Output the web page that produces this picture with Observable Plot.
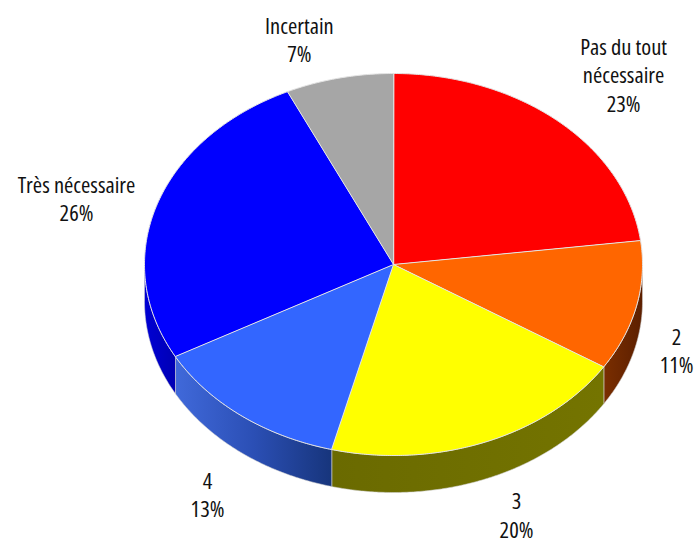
<!DOCTYPE html>
<html><head><meta charset="utf-8">
<script src="https://cdn.jsdelivr.net/npm/d3@7"></script>
<script src="https://cdn.jsdelivr.net/npm/@observablehq/plot@0.6"></script>
<style>html,body{margin:0;padding:0;background:#fff}</style>
</head><body><div id="chart"></div>
<script>
// ---- data ----
const categories = ["Pas du tout\nnécessaire", "2", "3", "4", "Très nécessaire", "Incertain"];
const values = [23, 11, 20, 13, 26, 7];
const topColors = ["#ff0000", "#ff6600", "#ffff00", "#3366ff", "#0000ff", "#a6a6a6"];
const sideColors = ["#7a0000", "url(#sideOrange)", "url(#sideYellow)", "url(#sideLightBlue)", "url(#sideBlue)", "#555555"];

// ---- layout ----
const W = 698, H = 544;
const cx = 393, rx = 249, cy = 264, ry = 191, depthPx = 37;
const depth = depthPx / ry;
const lift = 4 / ry;
// label anchors in pie units (x: -1..1 across, y: -1..1 down→up)
const labelAt = [[0.924, 1.183], [1.137, -0.335], [0.494, -1.195], [-0.747, -1.089], [-1.273, 0.461], [-0.378, 1.293]];

const total = d3.sum(values);
const rad = d => d * Math.PI / 180;
const topPts = [], sidePts = [];
let start = 0;
values.forEach((v, i) => {
  const a0 = start, a1 = start + v / total * 360;
  start = a1;
  topPts.push({id: i, x: 0, y: 0, fill: topColors[i]});
  for (let a = a0; a < a1; a += 0.5) topPts.push({id: i, x: Math.sin(rad(a)), y: Math.cos(rad(a)), fill: topColors[i]});
  topPts.push({id: i, x: Math.sin(rad(a1)), y: Math.cos(rad(a1)), fill: topColors[i]});
  const s0 = Math.max(a0, 90), s1 = Math.min(a1, 270);
  if (s1 > s0) {
    const arc = [];
    for (let a = s0; a < s1; a += 0.5) arc.push(a);
    arc.push(s1);
    arc.forEach(a => sidePts.push({id: i, x: Math.sin(rad(a)), y: Math.cos(rad(a)), fill: sideColors[i]}));
    arc.slice().reverse().forEach(a => sidePts.push({id: i, x: Math.sin(rad(a)), y: Math.cos(rad(a)) - depth, fill: sideColors[i]}));
  }
});

const labels = categories.map((c, i) => ({text: `${c}\n${values[i]}%`, x: labelAt[i][0], y: labelAt[i][1] + lift}));

const chart = Plot.plot({
  width: W, height: H, margin: 0,
  x: {domain: [-1, 1], range: [cx - rx, cx + rx]},
  y: {domain: [-1, 1], range: [cy + ry, cy - ry]},
  color: {type: "identity"},
  axis: null,
  style: {background: "#fff", overflow: "visible"},
  marks: [
    Plot.line(sidePts, {x: "x", y: "y", z: "id", fill: "fill", stroke: "#d0d0d0", strokeOpacity: 0.7, strokeWidth: 0.8, curve: "linear-closed"}),
    Plot.line(topPts, {x: "x", y: "y", z: "id", fill: "fill", stroke: "#e4e4e4", strokeWidth: 1, curve: "linear-closed"}),
    Plot.text(labels, {x: "x", y: "y", text: "text", textAnchor: "middle", lineAnchor: "top", lineHeight: 1.27,
      fontSize: 22.5, fontFamily: "'Open Sans', 'DejaVu Sans Condensed', sans-serif", fill: "#111"})
  ]
});

d3.select(chart).selectAll("text").style("font-stretch", "85%");

const defs = d3.select(chart).insert("defs", ":first-child");
function grad(id, stops) {
  const g = defs.append("linearGradient").attr("id", id).attr("x1", 0).attr("x2", 1).attr("y1", 0).attr("y2", 0);
  stops.forEach(([o, c]) => g.append("stop").attr("offset", o).attr("stop-color", c));
}
grad("sideOrange", [[0, "#7a2e00"], [1, "#5c1f00"]]);
grad("sideYellow", [[0, "#6a6a00"], [1, "#747400"]]);
grad("sideLightBlue", [[0, "#4069da"], [0.5, "#2b4fb5"], [1, "#17357c"]]);
grad("sideBlue", [[0, "#0000d4"], [1, "#0000b4"]]);

document.getElementById("chart").appendChild(chart);
</script>
</body></html>
